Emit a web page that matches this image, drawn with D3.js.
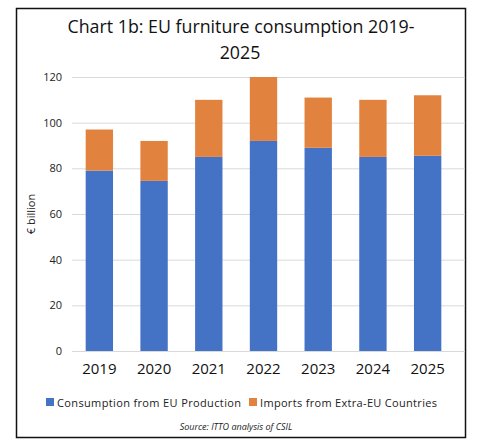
<!DOCTYPE html>
<html lang="en"><head><meta charset="UTF-8">
<script src="https://d3js.org/d3.v7.min.js"></script>
<style>
  body { margin: 0; background: #fff; }
  svg text { font-family: "Open Sans", "Noto Sans", sans-serif; }
</style>
</head>
<body>
<div id="chart"></div>
<script>
  // values (EUR billion)
  const years = ["2019", "2020", "2021", "2022", "2023", "2024", "2025"];
  const euProduction = [79, 74.5, 85, 92, 89, 85, 85.5];
  const extraEuImports = [18, 17.5, 25, 28, 22, 25, 26.5];
  const yTicks = [0, 20, 40, 60, 80, 100, 120];
  const seriesNames = ["Consumption from EU Production", "Imports from Extra-EU Countries"];
  const seriesColors = ["#4472C4", "#E2823F"];

  const width = 482, height = 445;
  const margin = { top: 77, right: 27, bottom: 94, left: 72 };

  const rows = years.map((y, i) => ({ year: y, eu: euProduction[i], imp: extraEuImports[i] }));
  const stack = d3.stack().keys(["eu", "imp"])(rows);

  const x = d3.scaleBand()
      .domain(years)
      .range([margin.left, width - margin.right])
      .paddingInner(0.5)
      .paddingOuter(0.25);
  const y = d3.scaleLinear()
      .domain([0, 120])
      .range([height - margin.bottom, margin.top]);
  const color = d3.scaleOrdinal().domain(["eu", "imp"]).range(seriesColors);

  const svg = d3.select("#chart").append("svg")
      .attr("width", width)
      .attr("height", height)
      .attr("viewBox", [0, 0, width, height]);

  // frame
  svg.append("rect")
      .attr("x", 16.5).attr("y", 8.5)
      .attr("width", 449).attr("height", 429)
      .attr("fill", "none")
      .attr("stroke", "#111")
      .attr("stroke-width", 1.5);

  // title
  const title = svg.append("text")
      .attr("text-anchor", "middle")
      .attr("font-size", 17.8)
      .attr("fill", "#111");
  title.append("tspan").attr("x", 241).attr("y", 33).text("Chart 1b: EU furniture consumption 2019-");
  title.append("tspan").attr("x", 240).attr("y", 59).text("2025");

  // y axis with gridlines
  svg.append("g")
      .attr("transform", `translate(${margin.left},0)`)
      .call(d3.axisLeft(y).tickValues(yTicks).tickSize(0).tickPadding(10))
      .call(g => g.select(".domain").remove())
      .call(g => g.selectAll(".tick line").clone()
          .attr("x2", width - margin.left - margin.right + 10)
          .attr("stroke", "#d9d9d9"))
      .call(g => g.selectAll(".tick text")
          .attr("font-size", 11)
          .attr("fill", "#222")
          .style("font-family", "'Open Sans', sans-serif"));

  svg.append("text")
      .attr("transform", `translate(35,${(y(0) + y(120)) / 2}) rotate(-90)`)
      .attr("text-anchor", "middle")
      .attr("font-size", 11)
      .attr("fill", "#222")
      .text("€ billion");

  // bars
  svg.append("g")
    .selectAll("g")
    .data(stack)
    .join("g")
      .attr("fill", d => color(d.key))
    .selectAll("rect")
    .data(d => d)
    .join("rect")
      .attr("x", d => x(d.data.year))
      .attr("y", d => y(d[1]))
      .attr("height", d => y(d[0]) - y(d[1]))
      .attr("width", x.bandwidth());

  // x axis
  svg.append("g")
      .attr("transform", `translate(0,${height - margin.bottom})`)
      .call(d3.axisBottom(x).tickSize(0).tickPadding(12))
      .call(g => g.select(".domain").remove())
      .call(g => g.selectAll(".tick text")
          .attr("font-size", 15)
          .attr("fill", "#111")
          .style("font-family", "'Open Sans', sans-serif"));

  // legend
  const legendX = [46, 249];
  const legendW = [184, 177];
  const legend = svg.append("g");
  seriesNames.forEach((name, i) => {
    legend.append("rect")
        .attr("x", legendX[i]).attr("y", 398)
        .attr("width", 8).attr("height", 8)
        .attr("fill", seriesColors[i]);
    legend.append("text")
        .attr("x", legendX[i] + 11).attr("y", 407)
        .attr("font-size", 11)
        .attr("textLength", legendW[i])
        .attr("lengthAdjust", "spacing")
        .attr("fill", "#222")
        .text(name);
  });

  // source
  svg.append("text")
      .attr("x", 236).attr("y", 430)
      .attr("text-anchor", "middle")
      .attr("font-size", 9)
      .attr("font-style", "italic")
      .attr("fill", "#222")
      .text("Source: ITTO analysis of CSIL");
</script>
</body>
</html>
